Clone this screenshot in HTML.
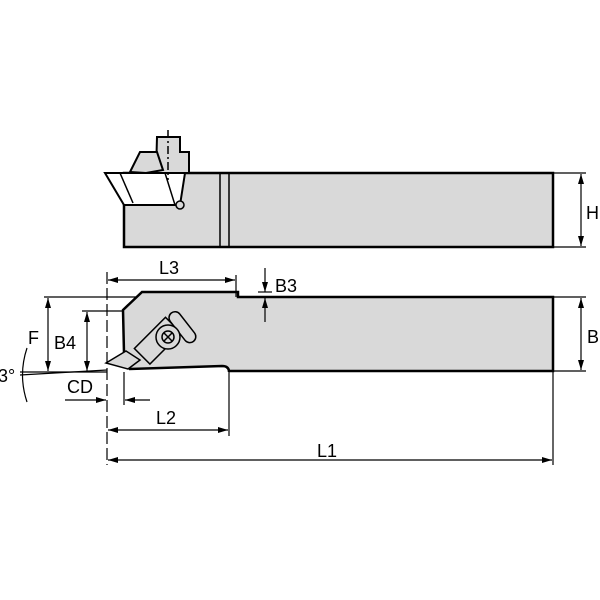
<!DOCTYPE html>
<html><head><style>body{margin:0;background:#fff}svg{display:block}text{font-family:"Liberation Sans",sans-serif;font-size:18px;fill:#000}</style></head><body>
<svg width="600" height="600" viewBox="0 0 600 600" xmlns="http://www.w3.org/2000/svg">
<defs><marker id="a" markerWidth="10" markerHeight="6" refX="10" refY="3" orient="auto" markerUnits="userSpaceOnUse"><path d="M0,0 L10,3 L0,6z" fill="#000"/></marker></defs>
<g stroke="#000" stroke-width="2.5" fill="#d9d9d9">
<rect x="124" y="173" width="429" height="74"/>
<path d="M105,173 L185,173 L180,205 L124,205 Z" fill="#fff" stroke-width="2"/>
<path d="M157,137 L180,137 L180,152 L189,152 L189,173 L156,173 Z" stroke-width="2"/>
<path d="M140,152 L157,152 L163,170 L146,173 L130,172 Z" stroke-width="2"/>
</g>
<g stroke="#000" stroke-width="1.5" fill="none">
<line x1="220" y1="173" x2="220" y2="247"/><line x1="229" y1="173" x2="229" y2="247"/>
<line x1="120" y1="173" x2="133" y2="203"/><line x1="165" y1="173" x2="175" y2="205"/>
<circle cx="180" cy="205" r="4" fill="#d9d9d9"/>
<line x1="168" y1="130" x2="168" y2="180" stroke-dasharray="8,3,2,3"/>
</g>
<g stroke="#000" stroke-width="2.5" fill="#d9d9d9">
<path d="M142,292 L238,292 L238,297 L553,297 L553,371 L229,371 L229,372 Q229,366 222,366 L130,369 L124,353 L123,310 Z"/>
</g>
<g stroke="#000" stroke-width="1.5" fill="#d9d9d9">
<path d="M106,363 L126,351 L140,360 L128,369 Z"/>
<g transform="rotate(-45 157 340)"><rect x="135" y="330" width="44" height="22"/></g>
<g transform="rotate(52 181 327)"><rect x="164" y="320" width="36" height="12" rx="6"/></g>
<circle cx="168" cy="337" r="12"/>
<circle cx="168" cy="337" r="6" fill="none"/>
<path d="M164,333 L172,341 M172,333 L164,341" fill="none"/>
</g>
<g stroke="#000" stroke-width="1.2" fill="none">
<line x1="553" y1="173" x2="586" y2="173"/><line x1="553" y1="247" x2="586" y2="247"/>
<line x1="581" y1="210" x2="581" y2="174" marker-end="url(#a)"/><line x1="581" y1="210" x2="581" y2="246" marker-end="url(#a)"/>
<line x1="553" y1="297" x2="586" y2="297"/><line x1="553" y1="371" x2="586" y2="371"/>
<line x1="581" y1="334" x2="581" y2="298" marker-end="url(#a)"/><line x1="581" y1="334" x2="581" y2="370" marker-end="url(#a)"/>
<line x1="107" y1="272" x2="107" y2="465" stroke-dasharray="12,4"/>
<line x1="236" y1="275" x2="236" y2="297"/>
<line x1="170" y1="280" x2="108" y2="280" marker-end="url(#a)"/><line x1="170" y1="280" x2="235" y2="280" marker-end="url(#a)"/>
<line x1="265" y1="268" x2="265" y2="292" marker-end="url(#a)"/><line x1="265" y1="322" x2="265" y2="298" marker-end="url(#a)"/>
<line x1="258" y1="292" x2="272" y2="292"/>
<line x1="44" y1="297" x2="136" y2="297"/>
<line x1="48" y1="335" x2="48" y2="298" marker-end="url(#a)"/><line x1="48" y1="335" x2="48" y2="371" marker-end="url(#a)"/>
<line x1="82" y1="311" x2="124" y2="311"/>
<line x1="87" y1="340" x2="87" y2="312" marker-end="url(#a)"/><line x1="87" y1="340" x2="87" y2="371" marker-end="url(#a)"/>
<line x1="20" y1="372" x2="107" y2="372"/><line x1="20" y1="375" x2="107" y2="370"/>
<path d="M27,348 Q18,375 27,402"/>
<line x1="124" y1="372" x2="124" y2="405"/>
<line x1="65" y1="400" x2="106" y2="400" marker-end="url(#a)"/><line x1="150" y1="400" x2="125" y2="400" marker-end="url(#a)"/>
<line x1="229" y1="372" x2="229" y2="436"/>
<line x1="170" y1="430" x2="108" y2="430" marker-end="url(#a)"/><line x1="170" y1="430" x2="228" y2="430" marker-end="url(#a)"/>
<line x1="553" y1="371" x2="553" y2="465"/>
<line x1="330" y1="460" x2="108" y2="460" marker-end="url(#a)"/><line x1="330" y1="460" x2="552" y2="460" marker-end="url(#a)"/>
</g>
<text x="586" y="219">H</text>
<text x="587" y="343">B</text>
<text x="159" y="274">L3</text>
<text x="275" y="292">B3</text>
<text x="28" y="344">F</text>
<text x="54" y="349">B4</text>
<text x="-2" y="382">3°</text>
<text x="67" y="393">CD</text>
<text x="156" y="424">L2</text>
<text x="317" y="457">L1</text>
</svg>
</body></html>
